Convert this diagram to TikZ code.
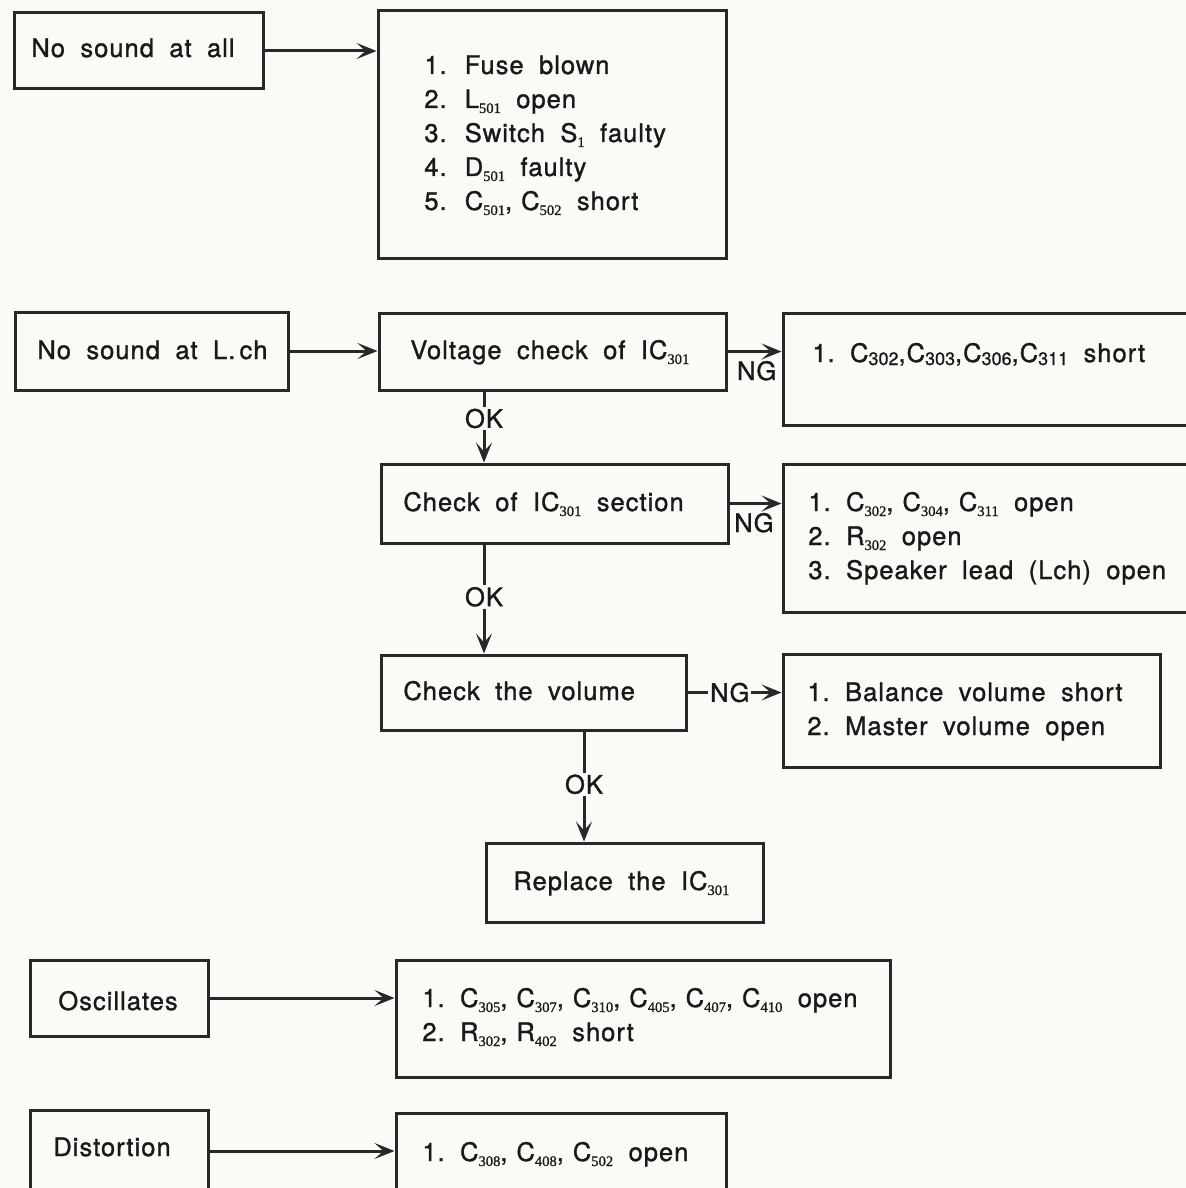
\documentclass[tikz,border=0pt]{standalone}
\usepackage{fontspec}
\setmainfont{TeX Gyre Heros}[LetterSpace=4, WordSpace=1.9, FakeBold=1.2]
\newfontfamily\subfont{Liberation Serif}[FakeBold=1]
\newfontfamily\subsans{TeX Gyre Heros}[FakeBold=1]
\usetikzlibrary{arrows.meta}
\definecolor{bg}{RGB}{250,250,246}
\definecolor{ink}{RGB}{25,25,25}
\definecolor{edge}{RGB}{40,40,40}
\newcommand\sbs[1]{\raisebox{-2.5pt}{\fontsize{7.3pt}{8pt}\subfont #1}}
\newcommand\sbb[1]{\raisebox{-1.5pt}{\fontsize{9pt}{9pt}\subsans #1}}
\newcommand\cm{,\kern4.5pt}
\newcommand\boxat[5]{\node[box, minimum width={(#4-#2)*0.5pt}, minimum height={(#5-#3)*0.5pt}] (#1) at ({(#2+#4)/2},{(#3+#5)/2}) {};}
\tikzset{
  box/.style={draw=edge, line width=1.5pt, inner sep=0pt},
  txt/.style={anchor=base west, inner sep=0pt, text=ink, font=\fontsize{12.75pt}{17pt}\selectfont},
  lbl/.style={inner sep=1pt, text=ink, font=\fontsize{12.75pt}{17pt}\selectfont},
  arr/.style={draw=edge, line width=1.5pt, -{Stealth[length=10pt, width=8pt, inset=4.5pt]}},
}
\begin{document}
\begin{tikzpicture}[x=0.5pt, y=-0.5pt]
\path[use as bounding box, fill=bg] (0,0) rectangle (1186,1188);
% boxes
\boxat{A}{14}{13}{263}{89}
\boxat{B}{378}{11}{726}{258}
\boxat{C}{15}{312}{288}{390}
\boxat{D}{379}{313}{726}{390}
\boxat{E}{783}{313}{1200}{425}
\boxat{F}{381}{464}{728}{543}
\boxat{G}{783}{464}{1200}{612}
\boxat{H}{381}{655}{686}{730}
\boxat{I}{783}{654}{1160}{767}
\boxat{J}{486}{843}{763}{922}
\boxat{K}{30}{960}{208}{1036}
\boxat{L}{396}{960}{890}{1077}
\boxat{M}{30}{1110}{208}{1192}
\boxat{N}{396}{1113}{726}{1192}
% texts
\node[txt] (At) at (31,57) {No sound at all};
\node[txt] (Bt) at (424,74) {\begin{tabular}[t]{@{}l@{}}1. Fuse blown\\2. L\sbs{501} open\\3. Switch S\sbs{1} faulty\\4. D\sbs{501} faulty\\5. C\sbs{501}\cm C\sbs{502} short\end{tabular}};
\node[txt] (Ct) at (37,359) {No sound at L.\,ch};
\node[txt] (Dt) at (410,359) {Voltage check of IC\sbs{301}};
\node[txt] (Et) at (812,362) {1.\ C\sbb{302},C\sbb{303},C\sbb{306},C\sbb{311} short};
\node[txt] (Ft) at (403,511) {Check of IC\sbs{301} section};
\node[txt] (Gt) at (808,511) {\begin{tabular}[t]{@{}l@{}}1.\ C\sbs{302}\cm C\sbs{304}\cm C\sbs{311} open\\2.\ R\sbs{302} open\\3.\ Speaker lead (Lch) open\end{tabular}};
\node[txt] (Ht) at (403,700) {Check the volume};
\node[txt] (It) at (807,701) {\begin{tabular}[t]{@{}l@{}}1.\ Balance volume short\\2.\ Master volume open\end{tabular}};
\node[txt] (Jt) at (513,890) {Replace the IC\sbs{301}};
\node[txt] (Kt) at (58,1010) {Oscillates};
\node[txt] (Lt) at (422,1007) {\begin{tabular}[t]{@{}l@{}}1.\ C\sbs{305}\cm C\sbs{307}\cm C\sbs{310}\cm C\sbs{405}\cm C\sbs{407}\cm C\sbs{410} open\\2.\ R\sbs{302}\cm R\sbs{402} short\end{tabular}};
\node[txt] (Mt) at (53,1156) {Distortion};
\node[txt] (Nt) at (422,1161) {1.\ C\sbs{308}\cm C\sbs{408}\cm C\sbs{502} open};
% connectors
\coordinate (k1) at (484,0);
\coordinate (k2) at (584,0);
\draw[arr] (A.east) -- (A.east -| B.west);
\draw[arr] (C.east) -- (C.east -| D.west);
\draw[arr] (D.east) -- (D.east -| E.west) node[lbl, pos=0.54, below, yshift=-3pt] {NG};
\draw[arr] (F.east) -- (F.east -| G.west) node[lbl, pos=0.47, below, yshift=-3pt] {NG};
\draw[arr] (H.east) -- (H.east -| I.west) node[lbl, pos=0.45, fill=bg] {NG};
\draw[arr] (D.south -| k1) -- (F.north -| k1) node[lbl, pos=0.38, fill=bg] {OK};
\draw[arr] (F.south -| k1) -- (H.north -| k1) node[lbl, pos=0.48, fill=bg] {OK};
\draw[arr] (H.south -| k2) -- (J.north -| k2) node[lbl, pos=0.48, fill=bg] {OK};
\draw[arr] (K.east) -- (K.east -| L.west);
\draw[arr] (M.east) -- (M.east -| N.west);
\end{tikzpicture}
\end{document}
